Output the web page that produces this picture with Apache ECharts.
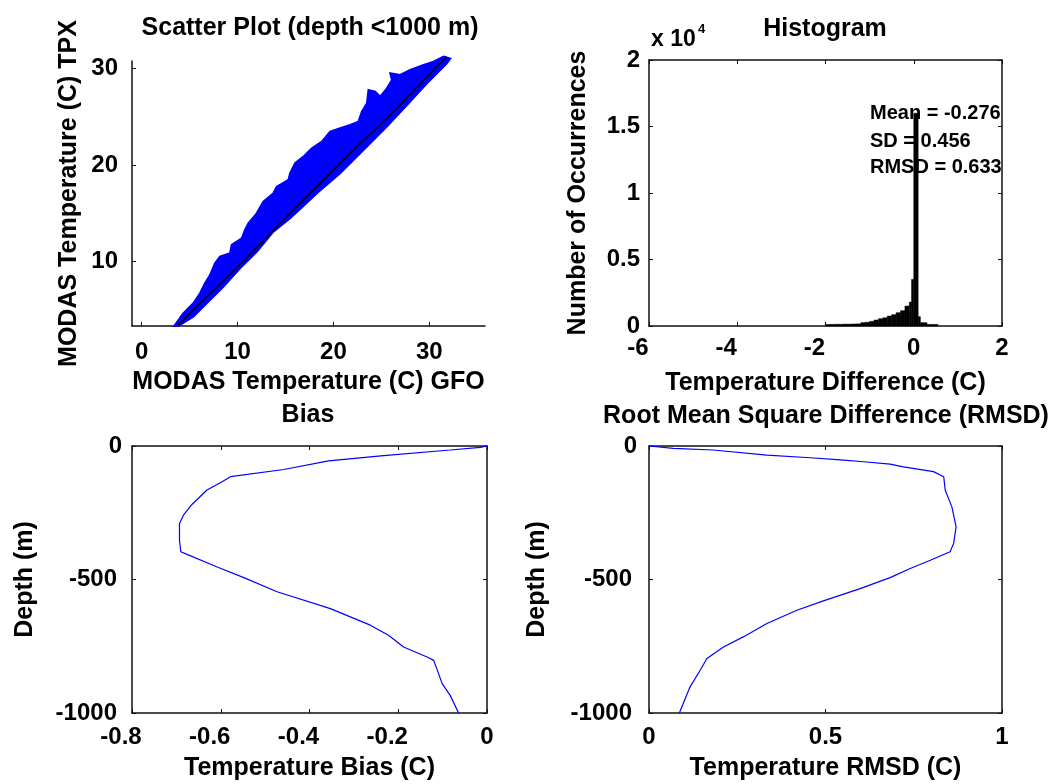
<!DOCTYPE html>
<html>
<head>
<meta charset="utf-8">
<script src="https://cdn.jsdelivr.net/npm/echarts@6/dist/echarts.min.js"></script>
<style>
html,body{margin:0;padding:0;background:#fff;}
#chart{width:1060px;height:784px;}
</style>
</head>
<body>
<div id="chart"></div>
<script>
// ---------- DATA ----------
// Scatter cloud envelope (GFO temperature x, TPX temperature y)
const scatterUpperX = [3.4, 4.34, 5.39, 6.09, 6.61, 7.13, 7.65, 8.17, 9.22, 9.39, 10.44, 10.78, 11.13, 12.0, 12.69, 13.74, 14.09, 15.30, 15.48, 16.0, 16.87, 17.75, 18.79, 19.66, 20.70, 21.74, 22.61, 22.96, 23.49, 23.65, 24.35, 24.87, 25.57, 26.10, 25.92, 26.96, 28.0, 29.39, 30.44, 31.48, 32.18];
const scatterUpperY = [3.35, 4.66, 5.70, 6.73, 7.77, 8.62, 9.83, 10.52, 10.87, 11.73, 12.42, 13.28, 13.97, 15.0, 16.2, 17.07, 17.76, 18.45, 19.14, 20.2, 20.86, 21.73, 22.41, 23.44, 23.8, 24.14, 24.48, 25.51, 26.38, 27.76, 27.58, 27.06, 27.93, 28.79, 29.48, 29.31, 29.82, 30.34, 30.68, 31.2, 31.0];
const scatterLowerX = [3.82, 5.39, 7.13, 8.52, 10.26, 12.0, 13.74, 15.48, 16.7, 18.27, 20.70, 23.13, 25.57, 27.66, 29.75, 31.84, 32.18];
const scatterLowerY = [3.35, 4.31, 6.04, 7.41, 9.32, 11.03, 13.1, 14.49, 15.6, 17.07, 19.14, 21.55, 23.96, 26.2, 28.45, 30.52, 31.0];
const fitX = [3.8, 10.4, 15.5, 17.9, 22.8, 25.6, 31.8];
const fitY = [3.45, 9.83, 15.0, 17.4, 22.24, 24.83, 31.2];

// Histogram of temperature difference (bin edges and counts)
const histEdges = [-2.0, -1.9, -1.8, -1.7, -1.6, -1.5, -1.4, -1.3, -1.2, -1.1, -1.0, -0.9, -0.8, -0.7, -0.6, -0.5, -0.4, -0.3, -0.2, -0.1, -0.05, 0.0, 0.1, 0.15, 0.3, 0.55];
const histCounts = [120, 120, 130, 130, 140, 140, 150, 160, 250, 280, 350, 450, 550, 620, 750, 850, 1000, 1150, 1500, 1800, 3500, 16000, 700, 250, 120];
const statLines = ['Mean = -0.276', 'SD = 0.456', 'RMSD = 0.633'];

// Bias profile
const biasX = [0, -0.015, -0.083, -0.233, -0.357, -0.458, -0.578, -0.597, -0.631, -0.665, -0.684, -0.693, -0.693, -0.690, -0.680, -0.608, -0.548, -0.473, -0.353, -0.263, -0.222, -0.188, -0.135, -0.120, -0.101, -0.083, -0.064];
const biasDepth = [0, -5, -15, -36, -56, -88, -115, -134, -165, -219, -259, -290, -352, -396, -403, -453, -493, -546, -609, -671, -709, -753, -790, -803, -890, -934, -1000];

// RMSD profile
const rmsdX = [0, 0.069, 0.182, 0.334, 0.457, 0.542, 0.608, 0.683, 0.721, 0.806, 0.835, 0.839, 0.858, 0.870, 0.863, 0.853, 0.797, 0.740, 0.683, 0.598, 0.494, 0.419, 0.334, 0.267, 0.211, 0.164, 0.145, 0.116, 0.086];
const rmsdDepth = [0, -9, -15, -34, -44, -52, -59, -68, -78, -96, -115, -165, -228, -303, -365, -396, -428, -459, -493, -534, -580, -615, -665, -715, -753, -796, -840, -903, -1000];

// Tick values
const scatterXTicks = [0, 10, 20, 30];
const scatterYTicks = [10, 20, 30];

// ---------- CHART ----------
const FONT = '"Liberation Sans", Arial, Helvetica, sans-serif';
const TICK_FS = 24, NAME_FS = 25;
const LINE_C = '#111';

function lbl(v) { return String(+Number(v).toFixed(3)); }
function negFmt(v) { const s = lbl(v); return v < 0 ? '{n|' + s + '}' : s; }

function labelStyle(extra) {
  return Object.assign({
    color: '#000', fontFamily: FONT, fontSize: TICK_FS, fontWeight: 'bold'
  }, extra || {});
}
const axisLineStyle = { show: true, onZero: false, lineStyle: { color: LINE_C, width: 1.5 } };
const tickIn = { show: true, inside: true, length: 4, lineStyle: { color: LINE_C, width: 1 } };
const nameStyle = { color: '#000', fontFamily: FONT, fontSize: NAME_FS, fontWeight: 'bold' };

function boxAxis(gridIndex, pos, min, max, interval) {
  return {
    type: 'value', gridIndex, position: pos, min, max, interval,
    axisLine: axisLineStyle, axisTick: tickIn, axisLabel: { show: false },
    splitLine: { show: false }
  };
}

const chart = echarts.init(document.getElementById('chart'), null, { renderer: 'canvas' });

const option = {
  backgroundColor: '#fff',
  animation: false,
  grid: [
    { left: 132, top: 61, width: 353, height: 265 },
    { left: 649, top: 60, width: 353, height: 266 },
    { left: 132, top: 446, width: 355, height: 267 },
    { left: 649, top: 446, width: 353, height: 267 }
  ],
  xAxis: [
    { // 0 scatter
      type: 'value', gridIndex: 0, min: -1, max: 35.8,
      axisLine: axisLineStyle,
      axisTick: Object.assign({}, tickIn, { customValues: scatterXTicks }),
      axisLabel: labelStyle({ customValues: scatterXTicks, margin: 14, formatter: lbl }),
      splitLine: { show: false },
      name: 'MODAS Temperature (C) GFO', nameLocation: 'middle', nameGap: 44, nameTextStyle: nameStyle
    },
    { // 1 histogram
      type: 'value', gridIndex: 1, min: -6, max: 2, interval: 2,
      axisLine: axisLineStyle, axisTick: tickIn,
      axisLabel: labelStyle({ margin: 10, formatter: negFmt, rich: { n: labelStyle({ padding: [0, 22, 0, 0] }) } }),
      splitLine: { show: false },
      name: 'Temperature Difference (C)', nameLocation: 'middle', nameGap: 45, nameTextStyle: nameStyle
    },
    { // 2 bias
      type: 'value', gridIndex: 2, min: -0.8, max: 0, interval: 0.2,
      axisLine: axisLineStyle, axisTick: tickIn,
      axisLabel: labelStyle({ margin: 12, formatter: negFmt, rich: { n: labelStyle({ padding: [0, 22, 0, 0] }) } }),
      splitLine: { show: false },
      name: 'Temperature Bias (C)', nameLocation: 'middle', nameGap: 43, nameTextStyle: nameStyle
    },
    { // 3 rmsd
      type: 'value', gridIndex: 3, min: 0, max: 1, interval: 0.5,
      axisLine: axisLineStyle, axisTick: tickIn,
      axisLabel: labelStyle({ margin: 12, formatter: lbl }),
      splitLine: { show: false },
      name: 'Temperature RMSD (C)', nameLocation: 'middle', nameGap: 43, nameTextStyle: nameStyle
    },
    boxAxis(1, 'top', -6, 2, 2),
    boxAxis(2, 'top', -0.8, 0, 0.2),
    boxAxis(3, 'top', 0, 1, 0.5)
  ],
  yAxis: [
    { // 0 scatter
      type: 'value', gridIndex: 0, min: 3.35, max: 30.75,
      axisLine: axisLineStyle,
      axisTick: Object.assign({}, tickIn, { customValues: scatterYTicks }),
      axisLabel: labelStyle({ customValues: scatterYTicks, margin: 14, formatter: lbl }),
      splitLine: { show: false },
      name: 'MODAS Temperature (C) TPX', nameLocation: 'middle', nameGap: 50, nameTextStyle: nameStyle
    },
    { // 1 histogram
      type: 'value', gridIndex: 1, min: 0, max: 20000, interval: 5000,
      axisLine: axisLineStyle, axisTick: tickIn,
      axisLabel: labelStyle({ margin: 9, formatter: v => lbl(v / 10000) }),
      splitLine: { show: false },
      name: 'Number of Occurrences', nameLocation: 'middle', nameGap: 58, nameTextStyle: nameStyle
    },
    { // 2 bias
      type: 'value', gridIndex: 2, min: -1000, max: 0, interval: 500,
      axisLine: axisLineStyle, axisTick: tickIn,
      axisLabel: labelStyle({ margin: 10, formatter: negFmt, rich: { n: labelStyle({ padding: [0, 5, 0, 0] }) } }),
      splitLine: { show: false },
      name: 'Depth (m)', nameLocation: 'middle', nameGap: 94, nameTextStyle: nameStyle
    },
    { // 3 rmsd
      type: 'value', gridIndex: 3, min: -1000, max: 0, interval: 500,
      axisLine: axisLineStyle, axisTick: tickIn,
      axisLabel: labelStyle({ margin: 12, formatter: negFmt, rich: { n: labelStyle({ padding: [0, 5, 0, 0] }) } }),
      splitLine: { show: false },
      name: 'Depth (m)', nameLocation: 'middle', nameGap: 99, nameTextStyle: nameStyle
    },
    boxAxis(1, 'right', 0, 20000, 5000),
    boxAxis(2, 'right', -1000, 0, 500),
    boxAxis(3, 'right', -1000, 0, 500)
  ],
  series: [
    { // scatter cloud as filled envelope
      type: 'custom', xAxisIndex: 0, yAxisIndex: 0, clip: false,
      data: [[scatterUpperX[0], scatterUpperY[0]]],
      renderItem: function (params, api) {
        const pts = [];
        for (let i = 0; i < scatterUpperX.length; i++) pts.push(api.coord([scatterUpperX[i], scatterUpperY[i]]));
        for (let i = scatterLowerX.length - 1; i >= 0; i--) pts.push(api.coord([scatterLowerX[i], scatterLowerY[i]]));
        return { type: 'polygon', shape: { points: pts }, style: { fill: '#0000ff', stroke: '#0000ff', lineWidth: 2, lineJoin: 'miter' } };
      },
      z: 2
    },
    {
      type: 'line', xAxisIndex: 0, yAxisIndex: 0, clip: false, symbol: 'none',
      data: fitX.map((x, i) => [x, fitY[i]]),
      lineStyle: { color: '#000', width: 1.5 }, z: 3
    },
    { // histogram
      type: 'custom', xAxisIndex: 1, yAxisIndex: 1,
      data: histCounts.map((c, i) => [histEdges[i], histEdges[i + 1], c]),
      encode: { x: [0, 1], y: 2 },
      renderItem: function (params, api) {
        const p0 = api.coord([api.value(0), api.value(2)]);
        const p1 = api.coord([api.value(1), 0]);
        return { type: 'rect', shape: { x: p0[0], y: p0[1], width: p1[0] - p0[0], height: p1[1] - p0[1] },
                 style: { fill: '#000', stroke: '#000', lineWidth: 0.5 } };
      }
    },
    {
      type: 'line', xAxisIndex: 2, yAxisIndex: 2, symbol: 'none',
      data: biasX.map((x, i) => [x, biasDepth[i]]),
      lineStyle: { color: '#0000ff', width: 1.2 }
    },
    {
      type: 'line', xAxisIndex: 3, yAxisIndex: 3, symbol: 'none',
      data: rmsdX.map((x, i) => [x, rmsdDepth[i]]),
      lineStyle: { color: '#0000ff', width: 1.2 }
    }
  ],
  graphic: [
    { type: 'text', x: 310, y: 28, style: { text: 'Scatter Plot (depth <1000 m)', align: 'center', verticalAlign: 'middle', font: 'bold 25px ' + FONT, fill: '#000' } },
    { type: 'text', x: 825, y: 29, style: { text: 'Histogram', align: 'center', verticalAlign: 'middle', font: 'bold 25px ' + FONT, fill: '#000' } },
    { type: 'text', x: 308, y: 415, style: { text: 'Bias', align: 'center', verticalAlign: 'middle', font: 'bold 25px ' + FONT, fill: '#000' } },
    { type: 'text', x: 826, y: 416, style: { text: 'Root Mean Square Difference (RMSD)', align: 'center', verticalAlign: 'middle', font: 'bold 25px ' + FONT, fill: '#000' } },
    { type: 'text', x: 651, y: 40, style: { text: 'x 10', align: 'left', verticalAlign: 'middle', font: 'bold 23px ' + FONT, fill: '#000' } },
    { type: 'text', x: 698, y: 29, style: { text: '4', align: 'left', verticalAlign: 'middle', font: 'bold 13px ' + FONT, fill: '#000' } },
    { type: 'text', x: 870, y: 113, z: 10, style: { text: statLines[0], align: 'left', verticalAlign: 'middle', font: 'bold 20px ' + FONT, fill: '#000' } },
    { type: 'text', x: 870, y: 141, z: 10, style: { text: statLines[1], align: 'left', verticalAlign: 'middle', font: 'bold 20px ' + FONT, fill: '#000' } },
    { type: 'text', x: 870, y: 167, z: 10, style: { text: statLines[2], align: 'left', verticalAlign: 'middle', font: 'bold 20px ' + FONT, fill: '#000' } }
  ]
};
chart.setOption(option);
</script>
</body>
</html>
